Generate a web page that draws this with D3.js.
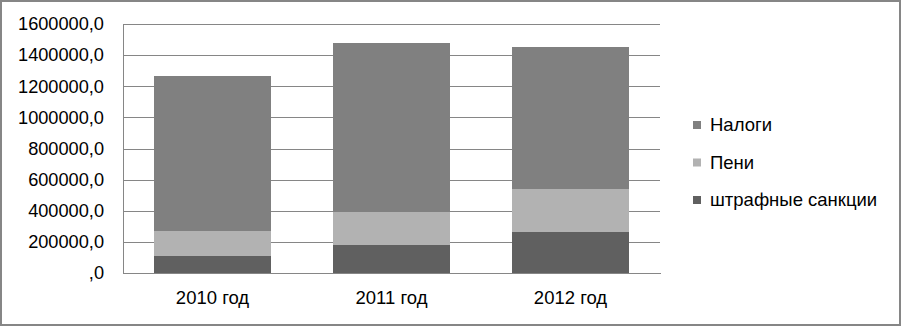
<!DOCTYPE html>
<html>
<head>
<meta charset="utf-8">
<script src="https://cdn.jsdelivr.net/npm/d3@7"></script>
<style>
  body { margin: 0; background: #fff; }
  svg { display: block; font-family: "Liberation Sans", Arial, sans-serif; }
</style>
</head>
<body>
<div id="chart"></div>
<script>
// data
const years = ["2010 год", "2011 год", "2012 год"];
const shtraf = [111000, 182000, 265000];
const peni = [160000, 212000, 276000];
const nalogi = [995000, 1084000, 912000];
const seriesNames = ["штрафные санкции", "Пени", "Налоги"];
const yTicks = [0, 200000, 400000, 600000, 800000, 1000000, 1200000, 1400000, 1600000];

const width = 902, height = 327;
const margin = { top: 24, right: 242, bottom: 54, left: 123 };
const colors = { "штрафные санкции": "#606060", "Пени": "#b2b2b2", "Налоги": "#808080" };

const svg = d3.select("#chart").append("svg")
  .attr("width", width)
  .attr("height", height);

// outer frame
svg.append("rect")
  .attr("x", 1).attr("y", 1)
  .attr("width", width - 3).attr("height", height - 3)
  .attr("fill", "#fff")
  .attr("stroke", "#868686")
  .attr("stroke-width", 2);

const rows = years.map((y, i) => ({
  year: y,
  "штрафные санкции": shtraf[i],
  "Пени": peni[i],
  "Налоги": nalogi[i]
}));
const stacked = d3.stack().keys(seriesNames)(rows);

const x = d3.scaleBand()
  .domain(years)
  .range([margin.left, width - margin.right])
  .paddingInner(0.35)
  .paddingOuter(0.175);

const y = d3.scaleLinear()
  .domain([0, 1600000])
  .range([height - margin.bottom, margin.top]);

// gridlines
svg.append("g")
  .attr("transform", `translate(${margin.left},0)`)
  .call(d3.axisLeft(y).tickValues(yTicks).tickSize(-(width - margin.right - margin.left)).tickFormat(""))
  .call(g => g.select(".domain").remove())
  .call(g => g.selectAll("line").attr("stroke", "#868686").attr("shape-rendering", "crispEdges"));

// y axis labels
const fmt = v => v === 0 ? ",0" : v + ",0";
svg.append("g")
  .attr("transform", `translate(${margin.left},0)`)
  .call(d3.axisLeft(y).tickValues(yTicks).tickSize(0).tickPadding(19).tickFormat(fmt))
  .call(g => g.select(".domain").attr("stroke", "#868686").attr("shape-rendering", "crispEdges"))
  .call(g => g.selectAll("text").attr("font-size", 18.2).attr("fill", "#000")
    .attr("font-family", "Liberation Sans, Arial, sans-serif"));

// bars
svg.append("g").selectAll("g")
  .data(stacked)
  .join("g")
  .attr("fill", d => colors[d.key])
  .selectAll("rect")
  .data(d => d)
  .join("rect")
  .attr("x", d => x(d.data.year))
  .attr("y", d => y(d[1]))
  .attr("width", x.bandwidth())
  .attr("height", d => y(d[0]) - y(d[1]))
  .attr("shape-rendering", "crispEdges");

// x axis
svg.append("g")
  .attr("transform", `translate(0,${height - margin.bottom})`)
  .call(d3.axisBottom(x).tickSize(0).tickPadding(18))
  .call(g => g.select(".domain").attr("stroke", "#868686").attr("shape-rendering", "crispEdges"))
  .call(g => g.selectAll("text").attr("font-size", 18.5).attr("fill", "#000")
    .attr("font-family", "Liberation Sans, Arial, sans-serif"));

// legend
const legendNames = ["Налоги", "Пени", "штрафные санкции"];
const legend = svg.append("g").attr("transform", "translate(693,125)");
legendNames.forEach((n, i) => {
  const g = legend.append("g").attr("transform", `translate(0,${i * 37.5})`);
  g.append("rect").attr("x", 0).attr("y", -4).attr("width", 8).attr("height", 8).attr("fill", colors[n]);
  g.append("text").attr("x", 17).attr("y", 0).attr("dy", "0.35em")
    .attr("font-size", 18.5).attr("fill", "#000").text(n);
});
</script>
</body>
</html>
